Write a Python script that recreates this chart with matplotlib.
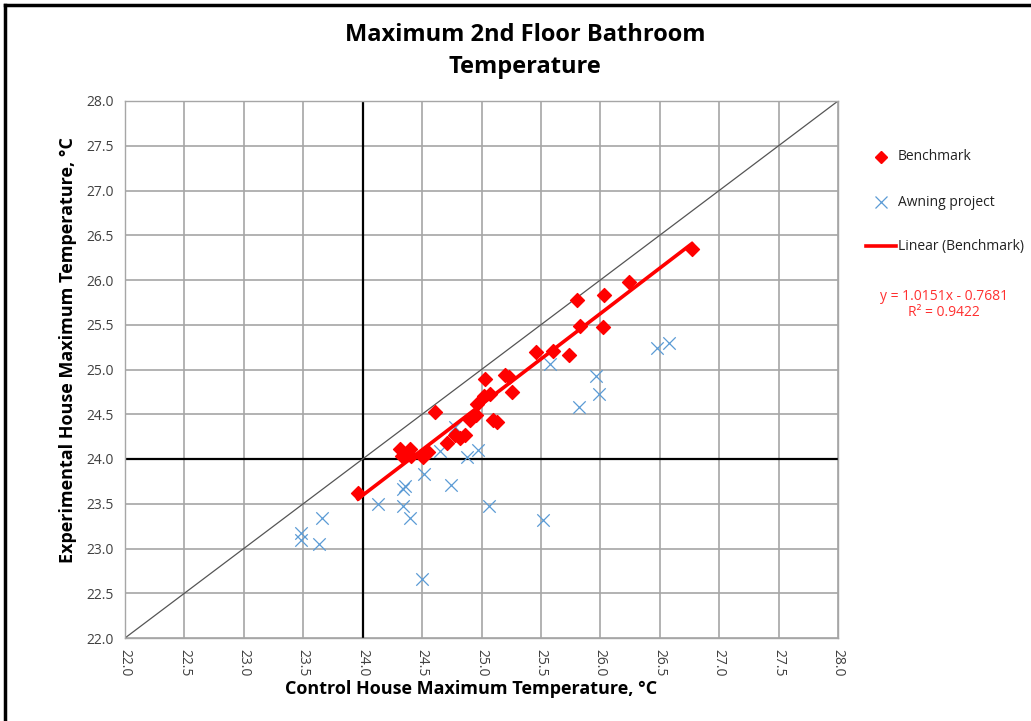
import matplotlib
matplotlib.use("Agg")
import matplotlib.pyplot as plt
import numpy as np
from matplotlib.lines import Line2D

# Benchmark data (control max temp, experimental max temp)
bench_x = [23.96, 24.31, 24.40, 24.33, 24.50, 24.41, 24.51, 24.55, 24.61, 24.71,
           24.78, 24.82, 24.86, 24.90, 24.95, 24.96, 25.02, 25.03, 25.07, 25.10,
           25.13, 25.20, 25.23, 25.26, 25.46, 25.60, 25.74, 25.83, 25.80, 26.03,
           26.02, 26.24, 26.77]
bench_y = [23.62, 24.11, 24.11, 24.03, 24.04, 24.03, 24.02, 24.08, 24.52, 24.18,
           24.27, 24.23, 24.27, 24.44, 24.49, 24.62, 24.70, 24.89, 24.73, 24.44,
           24.41, 24.94, 24.92, 24.75, 25.19, 25.21, 25.16, 25.49, 25.78, 25.83,
           25.48, 25.98, 26.35]

# Awning project data
awn_x = [23.48, 23.48, 23.66, 23.63, 24.13, 24.34, 24.34, 24.36, 24.40, 24.52,
         24.50, 24.65, 24.74, 24.78, 24.88, 24.97, 25.06, 25.52, 25.58, 25.96,
         25.99, 25.82, 26.48, 26.58]
awn_y = [23.17, 23.10, 23.34, 23.05, 23.50, 23.47, 23.67, 23.70, 23.34, 23.83,
         22.66, 24.09, 23.71, 24.36, 24.02, 24.10, 23.48, 23.32, 25.06, 24.93,
         24.73, 24.58, 25.24, 25.30]

# Trendline coefficients (from chart label)
slope = 1.0151
intercept = -0.7681
r2 = 0.9422

ticks = [22.0, 22.5, 23.0, 23.5, 24.0, 24.5, 25.0, 25.5, 26.0, 26.5, 27.0, 27.5, 28.0]

fig = plt.figure(figsize=(10.31, 7.21), dpi=100)
ax = fig.add_axes([125/1031, 1-638/721, (838-125)/1031, (638-101)/721])

ax.set_xlim(22, 28)
ax.set_ylim(22, 28)
ax.set_xticks(ticks)
ax.set_yticks(ticks)
ax.set_xticklabels([f"{t:.1f}" for t in ticks], rotation=-90, fontsize=10,
                   family="Open Sans", color="#404040")
ax.set_yticklabels([f"{t:.1f}" for t in ticks], fontsize=10,
                   family="Open Sans", color="#404040")
ax.tick_params(length=0, pad=8)
ax.grid(True, color="#a6a6a6", linewidth=1.2, zorder=0)
ax.set_axisbelow(True)
for s in ax.spines.values():
    s.set_color("#a6a6a6")
    s.set_linewidth(1.0)

# Reference lines
ax.axhline(24.0, color="black", linewidth=1.6, zorder=1)
ax.axvline(24.0, color="black", linewidth=1.6, zorder=1)
ax.plot([22, 28], [22, 28], color="#555555", linewidth=0.9, zorder=1)

ax.scatter(awn_x, awn_y, marker="x", s=80, color="#5b9bd5", linewidths=0.9, zorder=3)
ax.scatter(bench_x, bench_y, marker="D", s=50, color="red", edgecolors="red", zorder=4)

xs = np.array([min(bench_x), max(bench_x)])
ax.plot(xs, slope * xs + intercept, color="red", linewidth=2.6, zorder=5)

ax.set_xlabel("Control House Maximum Temperature, °C", fontsize=13,
              fontweight="bold", family="Open Sans")
ax.set_ylabel("Experimental House Maximum Temperature, °C", fontsize=13,
              fontweight="bold", family="Open Sans")
ax.xaxis.set_label_coords((471-125)/713, -(680-638)/537)
ax.yaxis.set_label_coords(-(125-77)/713, (638-350)/537)

fig.text(525/1031, 1-35/721, "Maximum 2nd Floor Bathroom", ha="center", va="center",
         fontsize=17, fontweight="bold", family="Open Sans")
fig.text(525/1031, 1-67/721, "Temperature", ha="center", va="center",
         fontsize=17, fontweight="bold", family="Open Sans")

# Legend (manual)
fig.add_artist(Line2D([881/1031], [1-157/721], marker="D", markersize=6,
                      color="red", linestyle="none"))
fig.text(898/1031, 1-157/721, "Benchmark", va="center", fontsize=10,
         family="Open Sans", color="#222222")
fig.add_artist(Line2D([881/1031], [1-202/721], marker="x", markersize=9,
                      color="#5b9bd5", markeredgewidth=0.9, linestyle="none"))
fig.text(898/1031, 1-202/721, "Awning project", va="center", fontsize=10,
         family="Open Sans", color="#222222")
fig.add_artist(Line2D([866/1031, 896/1031], [1-246/721, 1-246/721],
                      color="red", linewidth=2.6))
fig.text(898/1031, 1-246/721, "Linear (Benchmark)", va="center", fontsize=10,
         family="Open Sans", color="#222222")
fig.text(944/1031, 1-296/721, f"y = {slope:.4f}x - {abs(intercept):.4f}", ha="center",
         va="center", fontsize=10, family="Open Sans", color="#ff3030")
fig.text(944/1031, 1-312/721, f"R² = {r2:.4f}", ha="center",
         va="center", fontsize=10, family="Open Sans", color="#ff3030")

# Outer frame (left and top visible)
fig.add_artist(Line2D([5/1031, 5/1031], [0, 1-5/721], color="black", linewidth=2.5))
fig.add_artist(Line2D([5/1031, 1], [1-5/721, 1-5/721], color="black", linewidth=2.5))

fig.savefig("out.png", dpi=100)
